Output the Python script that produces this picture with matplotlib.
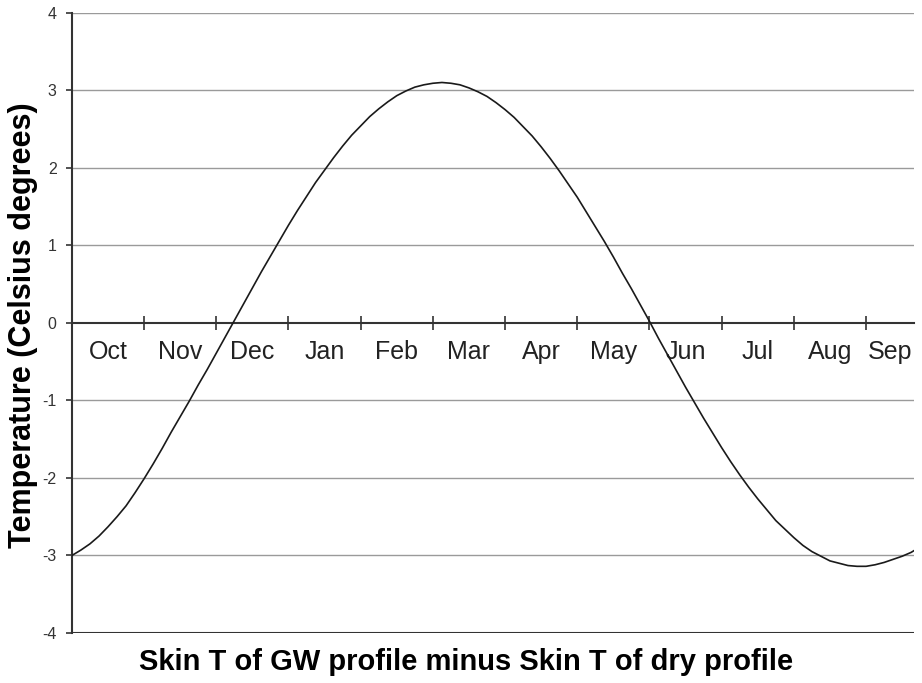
import matplotlib
matplotlib.use("Agg")
import matplotlib.pyplot as plt

# temperature difference read off every 1/8 month from the start of Oct,
# the last point is the right edge of the axis
months = [i / 8 for i in range(94)] + [11.66]
temp_diff = [-3.00, -2.93, -2.85, -2.75, -2.63, -2.50, -2.36, -2.19, -2.01, -1.82, -1.62, -1.41,
             -1.21, -1.01, -0.80, -0.60, -0.39, -0.18, 0.03, 0.24, 0.45, 0.66, 0.86, 1.06,
             1.26, 1.45, 1.63, 1.81, 1.97, 2.13, 2.28, 2.42, 2.54, 2.66, 2.76, 2.85,
             2.93, 2.99, 3.04, 3.07, 3.09, 3.10, 3.09, 3.07, 3.03, 2.98, 2.92, 2.84,
             2.75, 2.65, 2.53, 2.41, 2.27, 2.12, 1.96, 1.79, 1.62, 1.43, 1.24, 1.05,
             0.85, 0.64, 0.44, 0.23, 0.02, -0.20, -0.41, -0.62, -0.83, -1.03, -1.23, -1.42,
             -1.61, -1.79, -1.96, -2.12, -2.27, -2.41, -2.55, -2.66, -2.77, -2.87, -2.95, -3.01,
             -3.07, -3.10, -3.13, -3.14, -3.14, -3.12, -3.09, -3.05, -3.01, -2.96, -2.94]

month_names = ["Oct", "Nov", "Dec", "Jan", "Feb", "Mar", "Apr", "May",
               "Jun", "Jul", "Aug", "Sep"]
y_ticks = [-4, -3, -2, -1, 0, 1, 2, 3, 4]

plt.rcParams["font.family"] = ["Liberation Sans", "DejaVu Sans"]

fig = plt.figure(figsize=(9.22, 6.83), dpi=100)
ax = fig.add_axes([0.078, 0.0732, 0.913, 0.9082])

x_end = months[-1]

# gridlines
for yv in y_ticks:
    if yv in (0, -4):
        continue
    ax.plot([0, x_end], [yv, yv], color="#9a9a9a", lw=1.0, zorder=1)
ax.plot([0, x_end], [-4, -4], color="#333333", lw=1.5, zorder=2)

# the curve
ax.plot(months, temp_diff, color="#1a1a1a", lw=1.2, zorder=3,
        solid_joinstyle="round")

ax.set_xlim(0, x_end)
ax.set_ylim(-4, 4)

for side in ("top", "right"):
    ax.spines[side].set_visible(False)
ax.spines["bottom"].set_position(("data", 0))
ax.spines["bottom"].set_color("#333333")
ax.spines["bottom"].set_linewidth(1.5)
ax.spines["left"].set_color("#333333")
ax.spines["left"].set_linewidth(1.5)

# month boundaries as major ticks, names centred between them
ax.set_xticks(range(1, 12))
ax.set_xticklabels([])
ax.set_xticks([i + 0.5 for i in range(11)] + [(11 + x_end) / 2], minor=True)
ax.set_xticklabels(month_names, minor=True, fontsize=18, color="#222222")
ax.tick_params(axis="x", which="major", direction="inout", length=10,
               width=1.2, color="#333333")
ax.tick_params(axis="x", which="minor", length=0, pad=12)

ax.set_yticks(y_ticks)
ax.set_yticklabels([str(v) for v in y_ticks], fontsize=11.5, color="#333333")
ax.tick_params(axis="y", direction="out", length=4, width=1.2,
               color="#333333", pad=7)

fig.text(0.025, 0.524, "Temperature (Celsius degrees)", rotation=90,
         fontsize=22, fontweight="bold", ha="center", va="center")
fig.text(0.505, 0.031, "Skin T of GW profile minus Skin T of dry profile",
         fontsize=21, fontweight="bold", ha="center", va="center")

fig.savefig("out.png", dpi=100)
